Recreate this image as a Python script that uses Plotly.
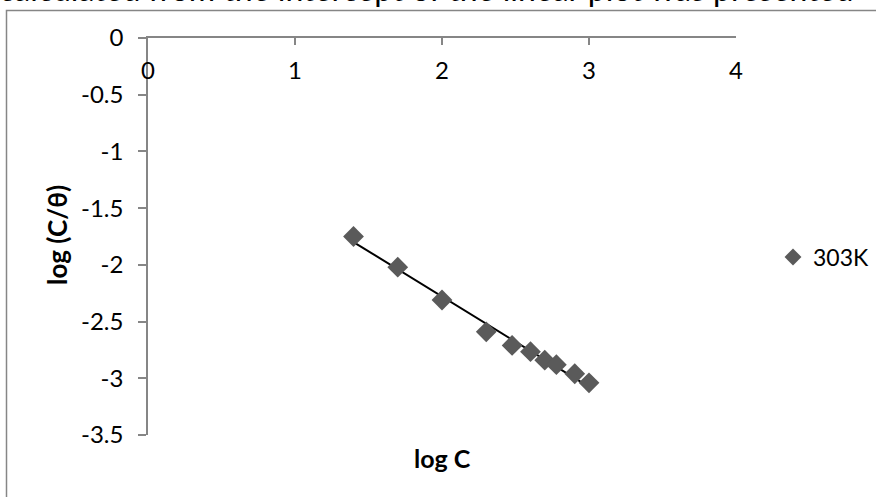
import numpy as np
import plotly.graph_objects as go

# Data
log_c = [1.398, 1.699, 2.000, 2.301, 2.477, 2.602, 2.699, 2.778, 2.903, 3.000]
log_c_theta = [-1.75, -2.02, -2.31, -2.59, -2.71, -2.765, -2.84, -2.88, -2.96, -3.04]
series_name = "303K"
x_ticks = [0, 1, 2, 3, 4]
y_ticks = [0, -0.5, -1, -1.5, -2, -2.5, -3, -3.5]
y_tick_text = ["0", "-0.5", "-1", "-1.5", "-2", "-2.5", "-3", "-3.5"]

# Linear trendline
slope, intercept = np.polyfit(log_c, log_c_theta, 1)
fit_x = [min(log_c), max(log_c)]
fit_y = [slope * v + intercept for v in fit_x]

W, H = 876, 497
L, R, T, B = 148, 140, 38, 62
pw, ph = W - L - R, H - T - B

def px_x(p):
    return (p - L) / pw

def px_y(p):
    return 1 - (p - T) / ph

FONT = "Lato, Calibri, Carlito, sans-serif"
AXC = "#868686"
MC = "#5a5a5a"

fig = go.Figure()
fig.add_trace(go.Scatter(x=fit_x, y=fit_y, mode="lines",
                         line=dict(color="black", width=2), showlegend=False,
                         hoverinfo="skip"))
fig.add_trace(go.Scatter(x=log_c, y=log_c_theta, mode="markers", name=series_name,
                         marker=dict(symbol="diamond", size=16, color=MC),
                         showlegend=False))
fig.add_trace(go.Scatter(x=[None], y=[None], mode="markers", name=series_name,
                         marker=dict(symbol="diamond", size=13, color=MC),
                         showlegend=True))
# invisible trace to activate the label-only x axis
fig.add_trace(go.Scatter(x=[None], y=[None], xaxis="x2", yaxis="y",
                         showlegend=False, hoverinfo="skip"))

fig.update_layout(
    width=W, height=H,
    margin=dict(l=L, r=R, t=T, b=B, pad=0, autoexpand=False),
    paper_bgcolor="white", plot_bgcolor="white",
    font=dict(family=FONT, size=24, color="black"),
    showlegend=True,
    legend=dict(x=px_x(773), y=px_y(257), xanchor="left", yanchor="middle",
                font=dict(family=FONT, size=23, color="black"),
                bgcolor="rgba(0,0,0,0)", itemwidth=30),
    xaxis=dict(range=[0, 4], tickvals=x_ticks, side="top", ticks="inside",
               ticklen=7, tickcolor=AXC, tickwidth=1.5,
               showticklabels=False,
               showline=True, linecolor=AXC, linewidth=1.5,
               showgrid=False, zeroline=False),
    xaxis2=dict(range=[0, 4], tickvals=x_ticks, overlaying="x", anchor="free",
                position=px_y(54), side="bottom", ticks="",
                showline=False, showgrid=False, zeroline=False,
                tickfont=dict(family=FONT, size=24, color="black")),
    yaxis=dict(range=[-3.5, 0], tickvals=y_ticks, ticktext=y_tick_text,
               ticks="outside", ticklen=8, tickcolor=AXC, tickwidth=1.5,
               ticklabelstandoff=10,
               showline=True, linecolor=AXC, linewidth=1.5,
               showgrid=False, zeroline=False,
               tickfont=dict(family=FONT, size=24, color="black")),
    annotations=[
        dict(text="<b>log C</b>", xref="paper", yref="paper",
             x=px_x(442), y=px_y(458), xanchor="center", yanchor="middle",
             showarrow=False, font=dict(family=FONT, size=25, color="black")),
        dict(text="<b>log (C/θ)</b>", xref="paper", yref="paper",
             x=px_x(57), y=px_y(235), xanchor="center", yanchor="middle",
             textangle=-90, showarrow=False,
             font=dict(family=FONT, size=26, color="black")),
        dict(text="calculated from the intercept of the linear plot was presented",
             xref="paper", yref="paper", x=px_x(426), y=px_y(10),
             xanchor="center", yanchor="bottom", showarrow=False,
             font=dict(family=FONT, size=32, color="black")),
    ],
    shapes=[
        dict(type="rect", xref="paper", yref="paper",
             x0=px_x(6.5), x1=px_x(W + 20), y0=px_y(H + 20), y1=px_y(10.5),
             line=dict(color=AXC, width=1.5), fillcolor="rgba(0,0,0,0)",
             layer="below"),
    ],
)

fig.write_html("out.html")
